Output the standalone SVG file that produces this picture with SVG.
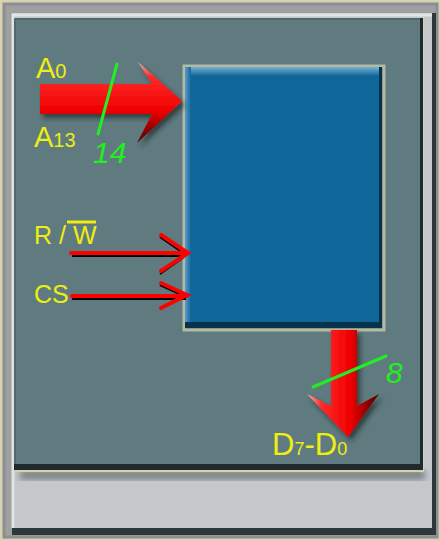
<svg xmlns="http://www.w3.org/2000/svg" width="440" height="540" viewBox="0 0 440 540">
<style>
.lbl{font-family:"Liberation Sans",Arial,sans-serif;fill:#eeee10}
.num{font-family:"Liberation Sans",Arial,sans-serif;font-style:italic;fill:#22ee22}
.thin{stroke:#ff0000;stroke-width:4;fill:none;stroke-linecap:round;stroke-linejoin:miter}
.thinsh{stroke:#000000;stroke-width:2;fill:none}
.tick{stroke:#22ee22;stroke-width:3;stroke-linecap:round}
</style>
<defs>
<linearGradient id="gH" x1="0" y1="0" x2="0" y2="1">
<stop offset="0" stop-color="#ffb0a8"/>
<stop offset="0.18" stop-color="#ff2a2a"/>
<stop offset="0.6" stop-color="#f00000"/>
<stop offset="1" stop-color="#500000"/>
</linearGradient>
<linearGradient id="gV" x1="0" y1="0" x2="1" y2="0">
<stop offset="0" stop-color="#ffb0a8"/>
<stop offset="0.2" stop-color="#ff2a2a"/>
<stop offset="0.6" stop-color="#f00000"/>
<stop offset="1" stop-color="#500000"/>
</linearGradient>
<linearGradient id="boxTop" x1="0" y1="0" x2="0" y2="1">
<stop offset="0" stop-color="#7ab0d4"/>
<stop offset="1" stop-color="#0f6799"/>
</linearGradient>
<linearGradient id="boxLeft" x1="0" y1="0" x2="1" y2="0">
<stop offset="0" stop-color="#5a9cc8"/>
<stop offset="1" stop-color="#0f6799"/>
</linearGradient>
<filter id="sh" x="-20%" y="-20%" width="150%" height="150%">
<feDropShadow dx="3" dy="4" stdDeviation="2.5" flood-color="#1a2224" flood-opacity="0.7"/>
</filter>
<filter id="blur"><feGaussianBlur stdDeviation="3"/></filter>
</defs>

<!-- frame -->
<g id="frame">
<rect x="0" y="0" width="440" height="540" fill="#9ea0a2"/>
<rect x="1.5" y="1.5" width="437" height="537" fill="none" stroke="#d6d2b2" stroke-width="3"/>
<rect x="4" y="4" width="433" height="533" fill="none" stroke="#8c8e90" stroke-width="3"/>
<rect x="12" y="13" width="424" height="522" fill="#2c383a"/>
<rect x="12" y="13" width="420" height="515" fill="#c4c8cb"/>
<path d="M12 15 H432 M13 14 V528" stroke="#e2e4e4" stroke-width="3"/>
<rect x="20" y="470" width="405" height="10" fill="#6c7478" filter="url(#blur)" opacity="0.8"/>
<rect x="14" y="18" width="410" height="454" fill="#d4d0b0"/>
<rect x="14" y="18" width="409" height="452" fill="#1e2a2c"/>
<rect x="14" y="18" width="406" height="446" fill="#5f7b80"/>
<path d="M15 19 H420 M15 19 V464" stroke="#4f6a70" stroke-width="2"/>
</g>

<!-- memory block -->
<g id="memory">
<rect x="184" y="66" width="200" height="264" fill="none" stroke="#d8d4b0" stroke-width="3" opacity="0.7"/>
<rect x="185" y="67" width="197" height="261" fill="#06324c"/>
<rect x="185" y="67" width="194" height="255" fill="#0f6799"/>
<rect x="185" y="67" width="194" height="9" fill="url(#boxTop)"/>
<rect x="185" y="67" width="6" height="255" fill="url(#boxLeft)"/>
</g>

<!-- connectors -->
<g id="connectors">
<polygon id="addr-bus" points="40,84 152,84 138,62 182,101 137,143 152,114 40,114" fill="url(#gH)" filter="url(#sh)"/>
<polygon id="data-bus" points="331,330 357,330 357,406 379,394 348,437 307,394 331,406" fill="url(#gV)" filter="url(#sh)"/>
<g id="rw-arrow">
<path class="thinsh" d="M72 256 H186 M160 237 L186 255 M160 274 L184 257"/>
<path class="thin" d="M71 253 H188 M161 235 L188 253 L161 271"/>
</g>
<g id="cs-arrow">
<path class="thinsh" d="M72 299 H186 M160 285 L186 297"/>
<path class="thin" d="M72 296 H187 M161 283 L187 295 L161 308"/>
</g>
<line class="tick" x1="117" y1="64" x2="98" y2="134"/>
<line class="tick" x1="313" y1="387" x2="386" y2="356"/>
</g>

<!-- labels -->
<g id="labels">
<text class="lbl" x="36" y="78" font-size="29">A<tspan font-size="20">0</tspan></text>
<text class="lbl" x="34" y="147" font-size="29">A<tspan font-size="20">13</tspan></text>
<text class="lbl" x="34" y="244" font-size="25">R / W</text>
<line x1="67" y1="222" x2="96" y2="222" stroke="#eeee10" stroke-width="3"/>
<text class="lbl" x="34" y="303" font-size="25">CS</text>
<text class="lbl" x="272" y="455" font-size="31">D<tspan font-size="18">7</tspan>-D<tspan font-size="18">0</tspan></text>
<text class="num" x="93" y="163" font-size="30">14</text>
<text class="num" x="386" y="383" font-size="30">8</text>
</g>
</svg>
